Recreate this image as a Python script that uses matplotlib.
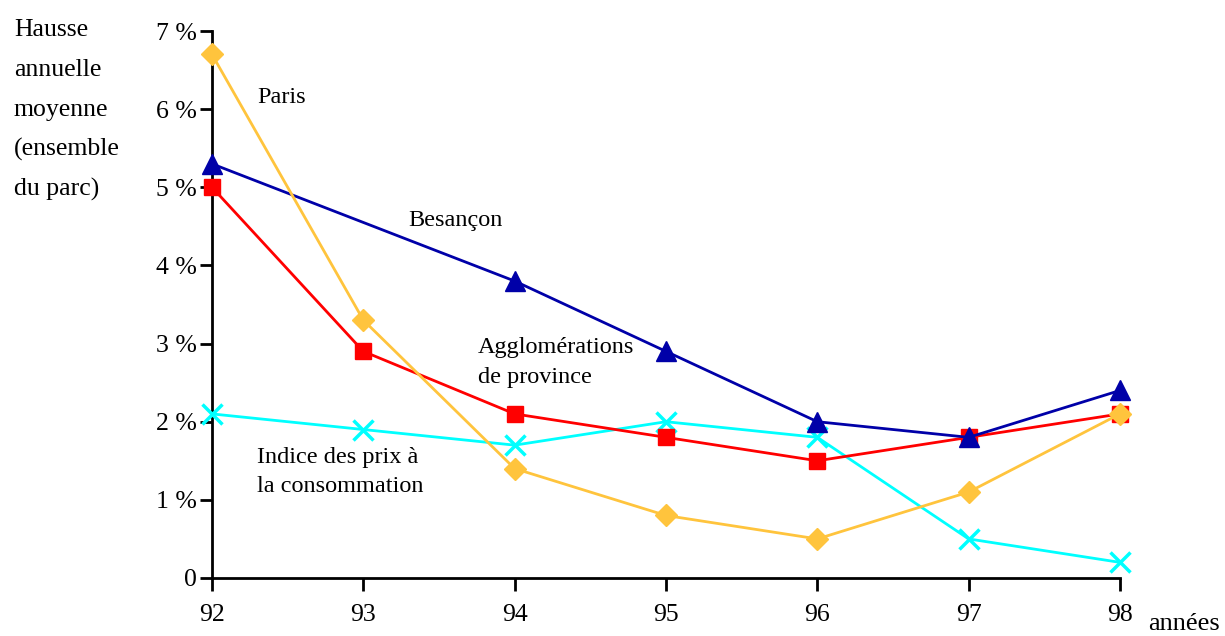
import matplotlib
matplotlib.use("Agg")
import matplotlib.pyplot as plt

years = [92, 93, 94, 95, 96, 97, 98]
paris = [6.7, 3.3, 1.4, 0.8, 0.5, 1.1, 2.1]
besancon_years = [92, 94, 95, 96, 97, 98]
besancon = [5.3, 3.8, 2.9, 2.0, 1.8, 2.4]
agglo = [5.0, 2.9, 2.1, 1.8, 1.5, 1.8, 2.1]
ipc = [2.1, 1.9, 1.7, 2.0, 1.8, 0.5, 0.2]
y_ticks = [0, 1, 2, 3, 4, 5, 6, 7]
y_labels = ["0", "1 %", "2 %", "3 %", "4 %", "5 %", "6 %", "7 %"]
ylab_lines = ["Hausse", "annuelle", "moyenne", "(ensemble", "du parc)"]

plt.rcParams['font.family'] = ['Liberation Serif', 'DejaVu Serif']
fs = 18.5
fa = 17.5

fig = plt.figure(figsize=(12.25, 6.36), dpi=100)
ax = fig.add_axes([212/1225, 58/636, 908/1225, 547/636])

ax.plot(years, ipc, color='#00FFFF', lw=2, marker='x', ms=14, mew=2.5, clip_on=False, zorder=3)
ax.plot(years, agglo, color='#FF0000', lw=2, marker='s', ms=11.5, clip_on=False, zorder=4)
ax.plot(besancon_years, besancon, color='#0000A8', lw=2, marker='^', ms=14.5, clip_on=False, zorder=5)
ax.plot(years, paris, color='#FFC43D', lw=2, marker='D', ms=11, clip_on=False, zorder=6)

ax.set_xlim(92, 98)
ax.set_ylim(0, 7)
ax.set_xticks(years)
ax.set_xticklabels([str(y) for y in years], fontsize=fs)
ax.set_yticks(y_ticks)
ax.set_yticklabels(y_labels, fontsize=fs)
for s in ['top', 'right']:
    ax.spines[s].set_visible(False)
for s in ['left', 'bottom']:
    ax.spines[s].set_linewidth(2)
ax.tick_params(axis='both', direction='out', length=9, width=2)
ax.tick_params(axis='y', pad=2)
ax.tick_params(axis='x', pad=10)

for i, t in enumerate(ylab_lines):
    fig.text(14/1225, 1 - (36 + i * 40)/636, t, fontsize=fs, ha='left', va='baseline')

ax.text(92.297, 6.08, "Paris", fontsize=fa, ha='left', va='baseline')
ax.text(93.295, 4.505, "Besançon", fontsize=fa, ha='left', va='baseline')
ax.text(93.758, 2.879, "Agglomérations", fontsize=fa, ha='left', va='baseline')
ax.text(93.758, 2.496, "de province", fontsize=fa, ha='left', va='baseline')
ax.text(92.30, 1.472, "Indice des prix à", fontsize=fa, ha='left', va='baseline')
ax.text(92.30, 1.101, "la consommation", fontsize=fa, ha='left', va='baseline')
fig.text(1148/1225, 1 - 630/636, "années", fontsize=19, ha='left', va='baseline')

fig.savefig("out.png", dpi=100)
